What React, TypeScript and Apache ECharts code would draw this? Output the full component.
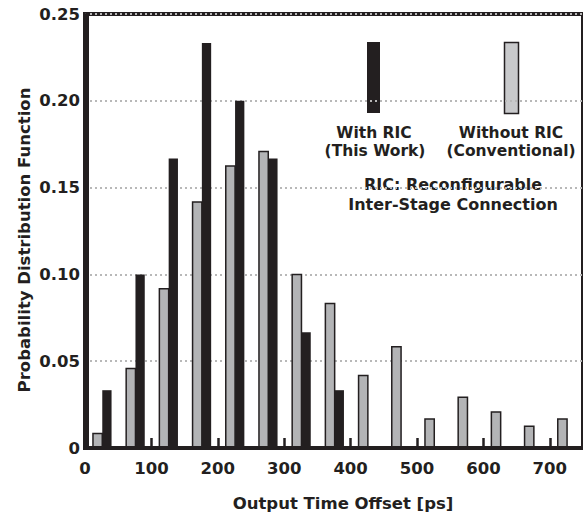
import { useEffect, useRef } from 'react';
import * as echarts from 'echarts';

// Bin positions (ps) and probability values
const grayX = [19, 69, 119, 169, 219, 269, 319, 369, 419, 469, 519, 569, 619, 669, 719];
const grayY = [0.0083, 0.0458, 0.0917, 0.1417, 0.1625, 0.1708, 0.1, 0.0833, 0.0417, 0.0583, 0.0167, 0.0292, 0.0208, 0.0125, 0.0167];
const blackX = [33, 83, 133, 183, 233, 283, 333, 383];
const blackY = [0.0333, 0.1, 0.1667, 0.2333, 0.2, 0.1667, 0.0667, 0.0333];

const xTicks = [0, 100, 200, 300, 400, 500, 600, 700];
const yTicks = [0, 0.05, 0.1, 0.15, 0.2, 0.25];

const DARK = '#231f20';
const GRAY = '#b3b4b6';
const GRAY_LEG = '#c8c9cb';
const FONT = 'DejaVu Sans';
const HALF = 7;

export default function App() {
  const ref = useRef<HTMLDivElement>(null);
  useEffect(() => {
    if (!ref.current) return;
    const chart = echarts.init(ref.current, null, { renderer: 'svg' });
    const barRender = (fill: string, stroke: string, lw: number) => (params: any, api: any) => {
      const x = api.value(0);
      const y = api.value(1);
      const p0 = api.coord([x - HALF, y]);
      const p1 = api.coord([x + HALF, 0]);
      return {
        type: 'rect',
        shape: { x: p0[0], y: p0[1], width: p1[0] - p0[0], height: p1[1] - p0[1] },
        style: { fill, stroke, lineWidth: lw },
      };
    };
    const textStyle = (text: string, x: number, y: number, size = 16.5) => ({
      type: 'text',
      x,
      y,
      style: {
        text,
        font: `bold ${size}px "${FONT}"`,
        fill: DARK,
        align: 'center',
        verticalAlign: 'middle',
      },
    });
    chart.setOption({
      animation: false,
      grid: {
        left: 85,
        top: 14,
        width: 500,
        height: 434,
        show: true,
        borderColor: DARK,
        borderWidth: 4,
        backgroundColor: 'transparent',
      },
      xAxis: {
        type: 'value',
        min: 0,
        max: 750,
        interval: 100,
        z: 5,
        axisLine: { show: true, lineStyle: { color: DARK, width: 4 } },
        axisTick: { show: true, inside: true, length: 10, lineStyle: { color: DARK, width: 2.5 } },
        axisLabel: {
          margin: 12,
          color: DARK,
          fontFamily: FONT,
          fontWeight: 'bold',
          fontSize: 16.5,
          showMaxLabel: false,
          formatter: (v: number) => (xTicks.includes(v) ? String(v) : ''),
        },
        splitLine: { show: false },
      },
      yAxis: {
        type: 'value',
        min: 0,
        max: 0.25,
        interval: 0.05,
        offset: -2,
        axisLine: { show: true, lineStyle: { color: DARK, width: 4 } },
        axisTick: { show: false },
        axisLabel: {
          margin: 7,
          color: DARK,
          fontFamily: FONT,
          fontWeight: 'bold',
          fontSize: 16.5,
          formatter: (v: number) => {
            const t = yTicks.find((k) => Math.abs(k - v) < 1e-9);
            if (t === undefined) return '';
            return t === 0 ? '0' : t.toFixed(2);
          },
        },
        splitLine: { show: true, lineStyle: { color: '#b8b8b8', width: 2, type: [2, 3] } },
      },
      series: [
        {
          type: 'custom',
          name: 'Without RIC (Conventional)',
          renderItem: barRender(GRAY, DARK, 1.5),
          data: grayX.map((x, i) => [x, grayY[i]]),
          z: 2,
        },
        {
          type: 'custom',
          name: 'With RIC (This Work)',
          renderItem: barRender(DARK, DARK, 0),
          data: blackX.map((x, i) => [x, blackY[i]]),
          z: 2,
        },
      ],
      graphic: [
        { type: 'rect', shape: { x: 367, y: 42, width: 13, height: 71 }, style: { fill: DARK } },
        { type: 'rect', shape: { x: 504.5, y: 42.5, width: 14, height: 71 }, style: { fill: GRAY_LEG, stroke: DARK, lineWidth: 1.5 } },
        textStyle('With RIC', 374, 133, 15.5),
        textStyle('(This Work)', 375, 150.5, 15.5),
        textStyle('Without RIC', 511, 133, 15.5),
        textStyle('(Conventional)', 511, 150.5, 15.5),
        textStyle('RIC: Reconfigurable', 453, 184, 16),
        textStyle('Inter-Stage Connection', 453, 204, 16),
        textStyle('Output Time Offset [ps]', 343, 503),
        { ...textStyle('Probability Distribution Function', 24, 240), rotation: Math.PI / 2 },
      ],
    });
    return () => chart.dispose();
  }, []);
  return <div ref={ref} style={{ position: 'absolute', left: 0, top: 0, width: 583, height: 515 }} />;
}
